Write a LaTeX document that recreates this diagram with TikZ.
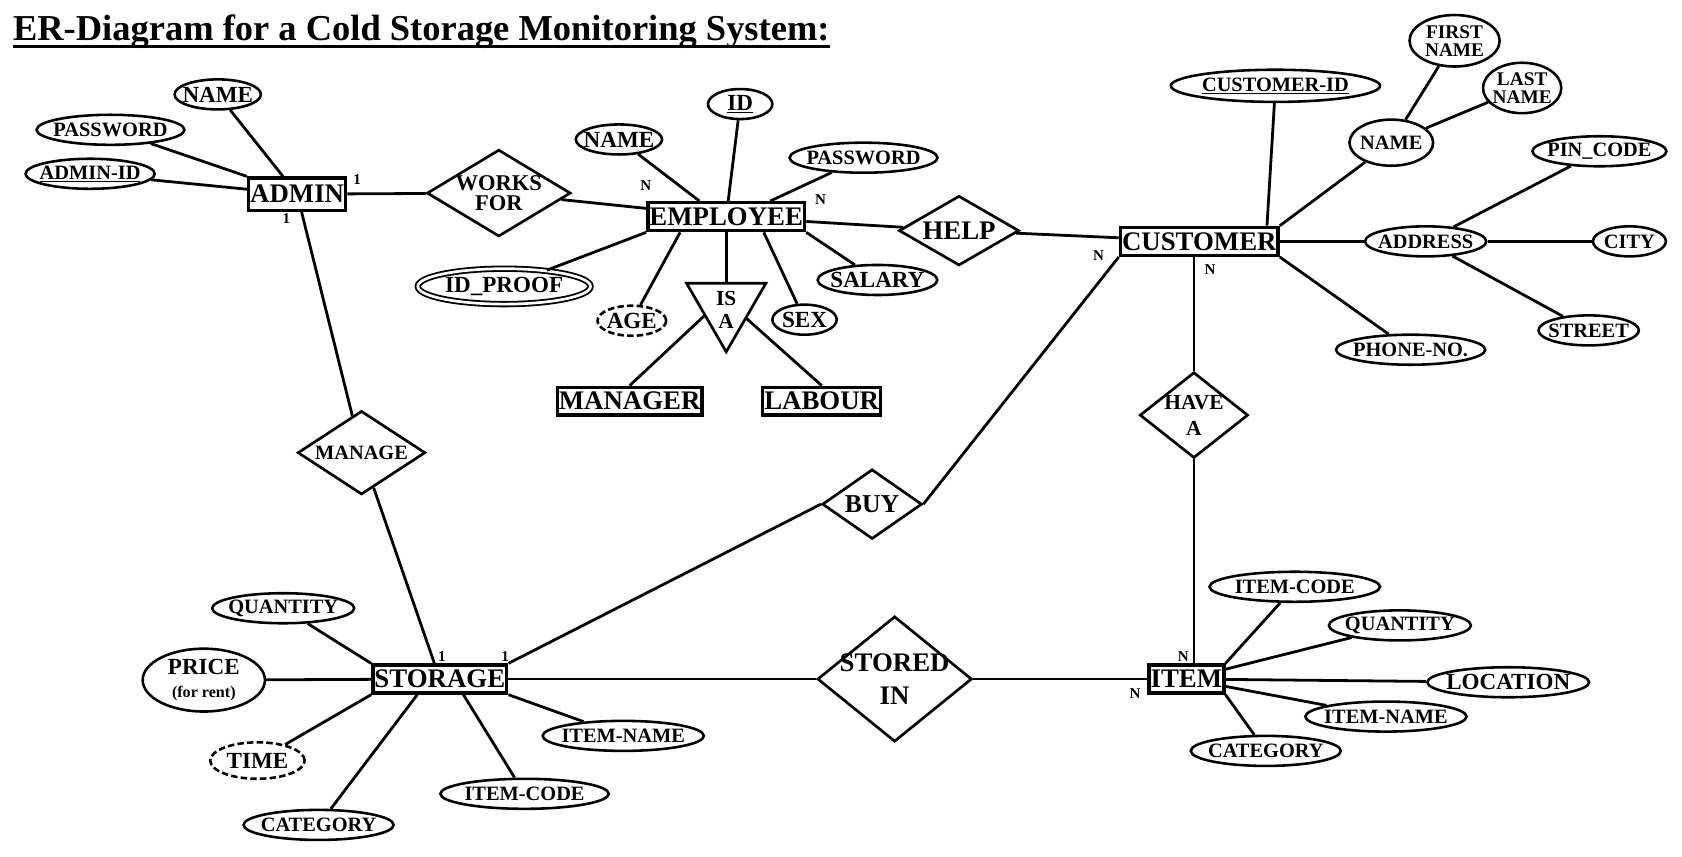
\documentclass[tikz,border=0pt]{standalone}
\usepackage{fontspec}
\setmainfont{Liberation Serif}
\usetikzlibrary{shapes.geometric}
\usetikzlibrary{positioning}

\tikzset{
  entity/.style={rectangle, draw, line width=3.2pt, inner xsep=1.5pt, inner ysep=0pt, minimum height=26pt, font=\fontsize{25}{25}\selectfont\bfseries},
  attr/.style={ellipse, draw, line width=2.4pt, inner xsep=-4.4pt, inner ysep=1pt, minimum width=60pt, minimum height=28pt, font=\fontsize{19}{19}\selectfont\bfseries},
  bigattr/.style={attr, font=\fontsize{21.5}{21.5}\selectfont\bfseries},
  rel/.style={diamond, draw, line width=2.5pt, inner sep=-8pt, align=center},
  link/.style={line width=2.6pt},
  card/.style={inner sep=0pt, font=\fontsize{14}{14}\selectfont\bfseries}
}

\begin{document}
\begin{tikzpicture}[x=1pt, y=-1pt]
        \useasboundingbox (0,0) rectangle (1568,798);
        \node[anchor=base west, inner sep=0pt, font=\fontsize{34}{34}\selectfont\bfseries] (title) at (12,38) {ER-Diagram for a Cold Storage Monitoring System:};
        \draw[line width=2.8pt] ([yshift=-5.5pt]title.base west) -- ([yshift=-5.5pt]title.base east);

        % admin
        \node[entity, minimum height=30pt] (admin) at (277,181) {ADMIN};
        \node[bigattr] (aname) at (203,88) {NAME};
        \node[attr] (apass) at (103,121) {PASSWORD};
        \node[attr] (aid) at (84,162) {\underline{ADMIN-ID}};
        \node[rel, minimum width=134pt, minimum height=81pt, font=\fontsize{21}{18}\selectfont\bfseries] (worksfor) at (465,180) {WORKS\\FOR};
        \node[rel, minimum width=119pt, minimum height=78pt, font=\fontsize{19}{19}\selectfont\bfseries] (manage) at (337,422) {MANAGE};

        % employee
        \node[entity] (employee) at (677,202) {EMPLOYEE};
        \node[bigattr] (ename) at (577,130) {NAME};
        \node[bigattr] (eid) at (690,97) {\underline{ID}};
        \node[attr] (epass) at (805,147) {PASSWORD};
        \node[bigattr, double, double distance=2.5pt, line width=1.7pt, minimum width=161pt, minimum height=33pt] (eproof) at (470,267) {ID\_PROOF};
        \node[bigattr, dashed, dash pattern=on 6pt off 3pt, minimum width=64pt] (eage) at (589,299) {AGE};
        \node[bigattr] (esex) at (750,298) {SEX};
        \node[bigattr] (esalary) at (818,261) {SALARY};
        \coordinate (isatl) at (640,264);
        \coordinate (isatr) at (714,264);
        \coordinate (isab) at (677,328);
        \coordinate (isatop) at (677,264);
        \coordinate (isaleft) at (657,294);
        \coordinate (isaright) at (696,297);
        \draw[line width=2.5pt] (isatl) -- (isatr) -- (isab) -- cycle;
        \node[align=center, inner sep=0pt, font=\fontsize{20}{22}\selectfont\bfseries] (isa) at (677,289) {IS\\A};
        \node[entity] (manager) at (587,374) {MANAGER};
        \node[entity] (labour) at (766,374) {LABOUR};
        \node[rel, minimum width=112pt, minimum height=65pt, font=\fontsize{25}{25}\selectfont\bfseries] (help) at (894,215) {HELP};

        % customer
        \node[entity] (customer) at (1118,225) {CUSTOMER};
        \node[attr, minimum width=195pt, minimum height=30pt] (cid) at (1189,80) {\underline{CUSTOMER-ID}};
        \node[attr, minimum width=78pt, minimum height=43pt] (cname) at (1297,133) {NAME};
        \node[attr, align=center, font=\fontsize{18}{16.5}\selectfont\bfseries, minimum width=84pt, minimum height=48pt] (cfirst) at (1356,38) {FIRST\\NAME};
        \node[attr, align=center, font=\fontsize{18}{16.5}\selectfont\bfseries, minimum width=73pt, minimum height=47pt] (clast) at (1419,82) {LAST\\NAME};
        \node[attr] (caddr) at (1329,225) {ADDRESS};
        \node[attr] (cpin) at (1491,141) {PIN\_CODE};
        \node[attr, minimum width=68pt] (ccity) at (1519,225) {CITY};
        \node[attr] (cstreet) at (1481,308) {STREET};
        \node[attr] (cphone) at (1315,326) {PHONE-NO.};
        \node[rel, minimum width=101pt, minimum height=80pt, font=\fontsize{20}{24}\selectfont\bfseries] (havea) at (1113,387) {HAVE\\A};
        \node[rel, minimum width=93pt, minimum height=65pt, font=\fontsize{24}{24}\selectfont\bfseries] (buy) at (813,470) {BUY};

        % storage
        \node[entity] (storage) at (410,633) {STORAGE};
        \node[attr] (squant) at (264,567) {QUANTITY};
        \node[bigattr, align=center, font=\fontsize{21.5}{22}\selectfont\bfseries, minimum width=114pt, minimum height=47pt] (sprice) at (190,634) {PRICE\\{\fontsize{15}{15}\selectfont(for rent)}};
        \node[bigattr, dashed, dash pattern=on 6pt off 3pt, minimum width=88pt, minimum height=34pt] (stime) at (240,709) {TIME};
        \node[attr] (scat) at (297,769) {CATEGORY};
        \node[attr, minimum width=157pt] (scode) at (489,740) {ITEM-CODE};
        \node[attr] (sname) at (581,686) {ITEM-NAME};
        \node[rel, minimum width=144pt, minimum height=89pt, font=\fontsize{25}{30}\selectfont\bfseries] (storedin) at (834,633) {STORED\\IN};

        % item
        \node[entity] (item) at (1106,633) {ITEM};
        \node[attr, minimum width=159pt] (icode) at (1207,547) {ITEM-CODE};
        \node[attr] (iquant) at (1305,583) {QUANTITY};
        \node[bigattr] (iloc) at (1406,636) {LOCATION};
        \node[attr] (iname) at (1292,668) {ITEM-NAME};
        \node[attr] (icat) at (1180,700) {CATEGORY};

        \node[card] (c1) at (333,167) {1};
        \node[card] (c2) at (267,204) {1};
        \node[card] (c3) at (602,173) {N};
        \node[card] (c4) at (765,186) {N};
        \node[card] (c5) at (1024,238) {N};
        \node[card] (c6) at (1128,251) {N};
        \node[card] (c7) at (412,612) {1};
        \node[card] (c8) at (471,612) {1};
        \node[card] (c9) at (1103,612) {N};
        \node[card] (c10) at (1058,647) {N};

        \draw[link] (aname) -- (admin);
        \draw[link] (apass) -- (admin.north west);
        \draw[link] (aid) -- (admin);
        \draw[link] (admin) -- (worksfor);
        \draw[link] (worksfor) -- (employee);
        \draw[link] (admin) -- (manage);
        \draw[link] (manage) -- (storage);

        \draw[link] (ename) -- ([xshift=-25pt]employee.north);
        \draw[link] (eid) -- (employee);
        \draw[link] (epass) -- ([xshift=41pt]employee.north);
        \draw[link] (eproof) -- (employee.south west);
        \draw[link] (eage) -- ([xshift=-43pt]employee.south);
        \draw[link] (esex) -- ([xshift=35pt]employee.south);
        \draw[link] (esalary) -- (employee.south east);
        \draw[link] (employee.south) -- (isatop);
        \draw[link] (isaleft) -- (manager.north);
        \draw[link] (isaright) -- (labour.north);
        \draw[link] (employee) -- (help);

        \draw[link] (help) -- (customer);
        \draw[link] (cid) -- ([xshift=-12pt]customer.north east);
        \draw[link] (cname) -- (customer.north east);
        \draw[link] (cfirst) -- (cname);
        \draw[link] (clast) -- (cname);
        \draw[link] (customer) -- (caddr);
        \draw[link] (caddr) -- (cpin);
        \draw[link] (caddr) -- (ccity);
        \draw[link] (caddr) -- (cstreet);
        \draw[link] (cphone) -- (customer.south east);
        \draw[link] (havea |- customer.south) -- (havea);
        \draw[link] (customer.south west) -- (buy.east);
        \draw[link] (buy.west) -- (storage.north east);

        \draw[link] (squant) -- (storage.north west);
        \draw[link] (sprice) -- (storage);
        \draw[link] (stime) -- (storage.south west);
        \draw[link] (scat) -- ([xshift=-21pt]storage.south);
        \draw[link] (scode) -- ([xshift=22pt]storage.south);
        \draw[link] (sname) -- (storage.south east);
        \draw[link] (storage) -- (storedin);
        \draw[link] (storedin) -- (item);
        \draw[link] (havea) -- (havea |- item.north);

        \draw[link] (icode) -- (item.north east);
        \draw[link] (iquant) -- (item);
        \draw[link] (iloc) -- (item);
        \draw[link] (iname) -- (item);
        \draw[link] (icat) -- (item.south east);
\end{tikzpicture}
\end{document}
